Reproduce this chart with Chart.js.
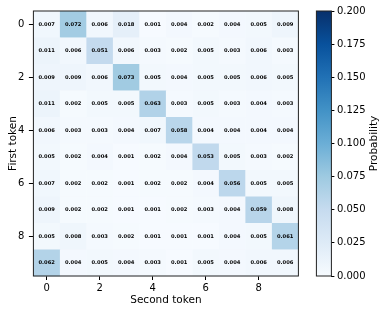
<!DOCTYPE html>
<html>
<head>
<meta charset="utf-8">
<script src="https://cdn.jsdelivr.net/npm/chart.js@4"></script>
<style>
  body { margin: 0; background: #fff; }
  #wrap { width: 386px; height: 313px; }
</style>
</head>
<body>
<div id="wrap"><canvas id="chartHeat" width="386" height="313"></canvas></div>
<script>
// ===============================
// DATA
// ===============================
const tokens = [0, 1, 2, 3, 4, 5, 6, 7, 8, 9];
const row0 = [0.007, 0.072, 0.006, 0.018, 0.001, 0.004, 0.002, 0.004, 0.005, 0.009];
const row1 = [0.011, 0.006, 0.051, 0.006, 0.003, 0.002, 0.005, 0.003, 0.006, 0.003];
const row2 = [0.009, 0.009, 0.006, 0.073, 0.005, 0.004, 0.005, 0.005, 0.006, 0.005];
const row3 = [0.011, 0.002, 0.005, 0.005, 0.063, 0.003, 0.005, 0.003, 0.004, 0.003];
const row4 = [0.006, 0.003, 0.003, 0.004, 0.007, 0.058, 0.004, 0.004, 0.004, 0.004];
const row5 = [0.005, 0.002, 0.004, 0.001, 0.002, 0.004, 0.053, 0.005, 0.003, 0.002];
const row6 = [0.007, 0.002, 0.002, 0.001, 0.002, 0.002, 0.004, 0.056, 0.005, 0.005];
const row7 = [0.009, 0.002, 0.002, 0.001, 0.001, 0.002, 0.003, 0.004, 0.059, 0.008];
const row8 = [0.005, 0.008, 0.003, 0.002, 0.001, 0.001, 0.001, 0.004, 0.005, 0.061];
const row9 = [0.062, 0.004, 0.005, 0.004, 0.003, 0.001, 0.005, 0.004, 0.006, 0.006];
const rows = [row0, row1, row2, row3, row4, row5, row6, row7, row8, row9];

const xTicks = [0, 2, 4, 6, 8];
const yTicks = [0, 2, 4, 6, 8];
const cbTicks = [0, 0.025, 0.05, 0.075, 0.1, 0.125, 0.15, 0.175, 0.2];
const vMin = 0;
const vMax = 0.2;

// matplotlib "Blues"
const blues = ["#f7fbff", "#deebf7", "#c6dbef", "#9ecae1", "#6baed6", "#4292c6", "#2171b5", "#08519c", "#08306b"];

// ===============================
// HELPERS
// ===============================
function hexRgb(h) {
  return [parseInt(h.slice(1, 3), 16), parseInt(h.slice(3, 5), 16), parseInt(h.slice(5, 7), 16)];
}
function bluesColor(v) {
  let t = (v - vMin) / (vMax - vMin);
  t = Math.max(0, Math.min(1, t));
  const pos = t * (blues.length - 1);
  const i = Math.min(Math.floor(pos), blues.length - 2);
  const f = pos - i;
  const a = hexRgb(blues[i]), b = hexRgb(blues[i + 1]);
  const c = a.map((x, k) => Math.round(x + (b[k] - x) * f));
  return `rgb(${c[0]},${c[1]},${c[2]})`;
}

const cells = [];
rows.forEach((r, yi) => r.forEach((v, xi) => cells.push({ x: tokens[xi], y: tokens[yi], v: v })));

const FONT = "'DejaVu Sans', sans-serif";

// ===============================
// PLUGIN: cells, frame, colorbar
// ===============================
const heatPlugin = {
  id: "heat",
  afterLayout(chart) {
    // colorbar axis sits to the right of the bar, not against the heatmap
    const cb = chart.scales.cb;
    const w = cb.right - cb.left;
    cb.left = chart.chartArea.right + 33;
    cb.right = cb.left + w;
  },
  beforeDatasetsDraw(chart) {
    const { ctx, chartArea: a } = chart;
    const xs = chart.scales.x, ys = chart.scales.y;
    const data = chart.data.datasets[0].data;
    ctx.save();
    data.forEach(c => {
      const x0 = xs.getPixelForValue(c.x - 0.5), x1 = xs.getPixelForValue(c.x + 0.5);
      const y0 = ys.getPixelForValue(c.y - 0.5), y1 = ys.getPixelForValue(c.y + 0.5);
      ctx.fillStyle = bluesColor(c.v);
      ctx.fillRect(Math.min(x0, x1), Math.min(y0, y1), Math.abs(x1 - x0) + 0.4, Math.abs(y1 - y0) + 0.4);
    });
    ctx.fillStyle = "#000";
    ctx.font = "bold 5.2px " + FONT;
    ctx.textAlign = "center";
    ctx.textBaseline = "middle";
    data.forEach(c => {
      ctx.fillText(c.v.toFixed(3), xs.getPixelForValue(c.x), ys.getPixelForValue(c.y));
    });
    ctx.strokeStyle = "#222";
    ctx.lineWidth = 1;
    ctx.strokeRect(a.left, a.top, a.right - a.left, a.bottom - a.top);

    // colorbar
    const cb = chart.scales.cb;
    const barR = cb.left, barL = barR - 15;
    const yb = cb.getPixelForValue(vMin), yt = cb.getPixelForValue(vMax);
    const g = ctx.createLinearGradient(0, yb, 0, yt);
    blues.forEach((col, i) => g.addColorStop(i / (blues.length - 1), col));
    ctx.fillStyle = g;
    ctx.fillRect(barL, yt, barR - barL, yb - yt);
    ctx.strokeStyle = "#222";
    ctx.strokeRect(barL, yt, barR - barL, yb - yt);

    ctx.save();
    ctx.translate(374, (yt + yb) / 2);
    ctx.rotate(-Math.PI / 2);
    ctx.fillStyle = "#000";
    ctx.font = "10.5px " + FONT;
    ctx.textAlign = "center";
    ctx.textBaseline = "middle";
    ctx.fillText("Probability", 0, 0);
    ctx.restore();
    ctx.restore();
  }
};

// ===============================
// CHART
// ===============================
const tickFont = { family: FONT, size: 10 };
const titleFont = { family: FONT, size: 10.5, lineHeight: 1.2 };

new Chart(document.getElementById("chartHeat"), {
  type: "scatter",
  data: {
    datasets: [{
      label: "Probability",
      data: cells,
      pointRadius: 0,
      pointHoverRadius: 0
    }]
  },
  options: {
    responsive: false,
    animation: false,
    events: [],
    layout: { padding: { top: 11, right: 0, bottom: 0, left: 0 } },
    plugins: { legend: { display: false }, tooltip: { enabled: false } },
    scales: {
      x: {
        type: "linear",
        position: "bottom",
        min: -0.5,
        max: 9.5,
        afterBuildTicks: s => { s.ticks = xTicks.map(v => ({ value: v })); },
        afterFit: s => { s.height = 37; },
        ticks: { color: "#000", font: tickFont, padding: 2, maxRotation: 0, callback: v => String(v) },
        grid: { drawOnChartArea: false, color: "#000", tickLength: 4 },
        border: { display: false },
        title: { display: true, text: "Second token", color: "#000", font: titleFont, padding: { top: 0, bottom: 6.2 } }
      },
      y: {
        type: "linear",
        position: "left",
        reverse: true,
        min: -0.5,
        max: 9.5,
        afterBuildTicks: s => { s.ticks = yTicks.map(v => ({ value: v })); },
        afterFit: s => { s.width = 33.4; },
        ticks: { color: "#000", font: tickFont, padding: 4.5, callback: v => String(v) },
        grid: { drawOnChartArea: false, color: "#000", tickLength: 4.5 },
        border: { display: false },
        title: { display: true, text: "First token", color: "#000", font: titleFont, padding: { top: 6.7, bottom: 0 } }
      },
      cb: {
        type: "linear",
        position: "right",
        min: vMin,
        max: vMax,
        afterBuildTicks: s => { s.ticks = cbTicks.map(v => ({ value: v })); },
        afterFit: s => { s.width = 87.6; },
        ticks: { color: "#000", font: tickFont, padding: 2.5, callback: v => v.toFixed(3) },
        grid: { drawOnChartArea: false, color: "#000", tickLength: 3 },
        border: { display: false }
      }
    }
  },
  plugins: [heatPlugin]
});
</script>
</body>
</html>
